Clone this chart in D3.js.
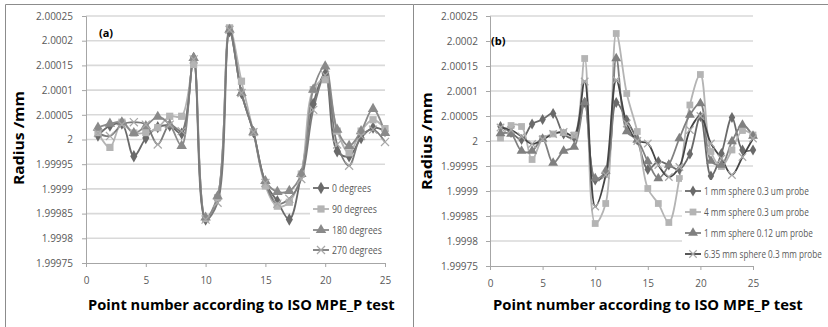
<!DOCTYPE html>
<html><head><meta charset="utf-8">
<script src="https://cdn.jsdelivr.net/npm/d3@7"></script>
<style>body{margin:0;background:#fff}svg{display:block}text{font-family:"Open Sans",sans-serif}</style>
</head><body><svg id="c" width="828" height="327"></svg>
<script>
const pointNumbers = [1,2,3,4,5,6,7,8,9,10,11,12,13,14,15,16,17,18,19,20,21,22,23,24,25];
const xTickValues = [0,5,10,15,20,25];
const yTickValues = [1.99975,1.9998,1.99985,1.9999,1.99995,2,2.00005,2.0001,2.00015,2.0002,2.00025];
const yTickLabels = ["1.99975","1.9998","1.99985","1.9999","1.99995","2","2.00005","2.0001","2.00015","2.0002","2.00025"];

// Panel (a)
const seriesNamesA = ["0 degrees","90 degrees","180 degrees","270 degrees"];
const deg0   = [2.000008,2.000028,2.000032,1.999966,2.000003,2.000025,2.000028,2.000012,2.000165,1.999838,1.999882,2.000219,2.000094,2.000015,1.999912,1.999875,1.999838,1.999930,2.000072,2.000133,1.999976,1.999966,2.000003,2.000024,2.000017];
const deg90  = [2.000014,1.999984,2.000035,2.000013,2.000014,2.000024,2.000047,2.000047,2.000152,1.999840,1.999882,2.000226,2.000118,2.000015,1.999906,1.999865,1.999873,1.999930,2.000101,2.000121,2.000017,1.999973,2.000017,2.000040,2.000022];
const deg180 = [2.000024,2.000032,2.000035,2.000013,2.000027,2.000046,2.000030,1.999987,2.000165,1.999842,1.999885,2.000222,2.000094,2.000015,1.999916,1.999894,1.999896,1.999930,2.000101,2.000148,2.000020,1.999987,2.000017,2.000062,2.000013];
const deg270 = [2.000013,2.000007,2.000030,2.000035,2.000030,1.999990,2.000030,2.000017,2.000162,1.999838,1.999872,2.000222,2.000094,2.000015,1.999912,1.999870,1.999880,1.999920,2.000060,2.000130,1.999990,1.999947,2.000007,2.000020,1.999995];

// Panel (b)
const seriesNamesB = ["1 mm sphere 0.3 um probe","4 mm sphere 0.3 um probe","1 mm sphere 0.12 um probe","6.35 mm sphere 0.3 mm probe"];
const sph1p03  = [2.000029,2.000017,2.000003,2.000034,2.000043,2.000055,2.000014,2.000007,2.000077,1.999922,1.999935,2.000077,2.000042,2.000002,1.999943,1.999959,1.999952,1.999943,1.999974,2.000049,1.999930,1.999975,2.000047,1.999982,1.999982];
const sph4p03  = [2.000006,2.000031,2.000029,1.999963,2.000005,2.000014,2.000017,2.000012,2.000165,1.999835,1.999875,2.000215,2.000095,2.000019,1.999905,1.999875,1.999837,1.999925,2.000072,2.000133,1.999979,1.999949,1.999982,2.000021,2.000012];
const sph1p012 = [2.000015,2.000014,1.999980,1.999980,2.000004,1.999956,1.999980,1.999988,2.000077,1.999925,1.999940,2.000165,2.000019,2.000002,1.999959,1.999925,1.999952,2.000005,2.000052,2.000075,1.999960,1.999952,1.999999,2.000032,2.000010];
const sph635   = [2.000027,2.000022,2.000009,1.999994,2.000003,2.000014,2.000018,2.000010,2.000119,1.999869,1.999932,2.000122,2.000035,2.000000,1.999995,1.999952,1.999928,1.999948,2.000022,2.000050,1.999995,1.999965,1.999932,1.999968,2.000005];

const svg = d3.select("#c");

// frames
svg.append("path").attr("d","M5.5,330 V4.5 H413.5 V330").attr("fill","none").attr("stroke","#8c8c8c").attr("stroke-width",1);
svg.append("path").attr("d","M413.5,4.5 H830").attr("fill","none").attr("stroke","#8c8c8c").attr("stroke-width",1);

const styles = [
  {line:"#6a6a6a", mark:"#6a6a6a", sym:d3.symbolDiamond, size:44, cross:false},
  {line:"#b4b4b4", mark:"#b4b4b4", sym:d3.symbolSquare, size:52, cross:false},
  {line:"#8a8a8a", mark:"#8a8a8a", sym:d3.symbolTriangle, size:48, cross:false},
  {line:"#7a7a7a", mark:"#a8a8a8", sym:d3.symbolX, size:44, cross:true}
];
const stylesB = [
  {line:"#6a6a6a", mark:"#6a6a6a", sym:d3.symbolDiamond, size:36, cross:false},
  {line:"#b4b4b4", mark:"#b4b4b4", sym:d3.symbolSquare, size:46, cross:false},
  {line:"#808080", mark:"#808080", sym:d3.symbolTriangle, size:42, cross:false},
  {line:"#454545", mark:"#a8a8a8", sym:d3.symbolX, size:38, cross:true}
];

function marker(g, st, x, y) {
  const p = g.append("path").attr("d", d3.symbol().type(st.sym).size(st.size)()).attr("transform",`translate(${x},${y})`);
  if (st.cross) p.attr("fill","none").attr("stroke",st.mark).attr("stroke-width",1.2);
  else p.attr("fill",st.mark).attr("stroke","none");
}

// text fitted to a target width by horizontal scaling (so its box is the real drawn box)
function fitText(g, str, x, y, width, size, weight, anchor, rotate) {
  const t = g.append("text").text(str).style("font-size",size+"px").style("font-weight",weight).attr("fill", weight==="bold"?"#000":"#595959");
  const nat = t.node().getComputedTextLength();
  const s = width / nat;
  const dx = anchor==="middle" ? -nat/2 : 0;
  t.attr("x",dx).attr("y",0);
  t.attr("transform", rotate ? `translate(${x},${y}) rotate(-90) scale(${s},1)` : `translate(${x},${y}) scale(${s},1)`);
  return t;
}

function panel(cfg) {
  const g = svg.append("g");
  const x = d3.scaleLinear().domain([0,25]).range([cfg.x0,cfg.x1]);
  const y = d3.scaleLinear().domain([1.99975,2.00025]).range([cfg.y0,cfg.y1]);
  g.append("g").selectAll("line").data(yTickValues.slice(1)).join("line")
    .attr("x1",cfg.x0).attr("x2",cfg.x1).attr("y1",d=>y(d)).attr("y2",d=>y(d))
    .attr("stroke","#d9d9d9").attr("stroke-width",1.6);
  const ya = g.append("g").attr("transform",`translate(${cfg.x0},0)`)
    .call(d3.axisLeft(y).tickValues(yTickValues).tickFormat((d,i)=>yTickLabels[i]).tickSize(4).tickPadding(cfg.ypad));
  const xa = g.append("g").attr("transform",`translate(0,${cfg.y0})`)
    .call(d3.axisBottom(x).tickValues(xTickValues).tickSize(4).tickPadding(10));
  [ya,xa].forEach(a=>{
    a.select(".domain").attr("stroke","#a6a6a6");
    a.selectAll(".tick line").attr("stroke","#a6a6a6");
    a.selectAll("text").attr("fill","#595959").style("font-size","10px").style("font-family","'Open Sans',sans-serif");
  });
  const line = d3.line().x((d,i)=>x(pointNumbers[i])).y(d=>y(d)).curve(d3.curveCatmullRom.alpha(0.5));
  cfg.series.forEach((s,k)=>{
    const st = cfg.styles[k];
    g.append("path").datum(s).attr("d",line).attr("fill","none").attr("stroke",st.line).attr("stroke-width",1.8);
  });
  cfg.series.forEach((s,k)=>{
    const st = cfg.styles[k];
    s.forEach((v,i)=>marker(g, st, x(pointNumbers[i]), y(v)));
  });
  g.append("rect").attr("x",cfg.lg.x).attr("y",cfg.lg.y).attr("width",cfg.lg.w).attr("height",cfg.lg.h).attr("fill","#fff");
  cfg.names.forEach((n,k)=>{
    const st = cfg.styles[k];
    const yy = cfg.lg.rows[k];
    g.append("line").attr("x1",cfg.lg.lx).attr("x2",cfg.lg.lx+16).attr("y1",yy).attr("y2",yy).attr("stroke",st.line).attr("stroke-width",1.8);
    marker(g, st, cfg.lg.lx+8, yy);
    fitText(g, n, cfg.lg.tx, yy+3.5, cfg.lg.tw[k], 10, "normal", "start", false);
  });
  g.append("text").attr("x",cfg.lab.x).attr("y",cfg.lab.y).text(cfg.lab.t)
    .style("font-size","11px").style("font-weight","bold").attr("fill","#000");
  fitText(g, "Point number according to ISO MPE_P test", (cfg.xt.x0+cfg.xt.x1)/2, cfg.xt.y, cfg.xt.x1-cfg.xt.x0, 15, "bold", "middle", false);
  fitText(g, "Radius  /mm", cfg.yt.x, cfg.yt.y, cfg.yt.len, 15, "bold", "middle", true);
}

panel({x0:86,x1:385,y0:263,y1:16,ypad:9,series:[deg0,deg90,deg180,deg270],styles:styles,names:seriesNamesA,
  lg:{x:310,y:176,w:88,h:84,rows:[188,209,230,250],lx:313,tx:332,tw:[39,45,50,50]},
  lab:{x:99,y:37,t:"(a)"},
  xt:{x0:88,x1:395,y:310},
  yt:{x:24,y:138,len:94}});

panel({x0:490,x1:753,y0:266,y1:16,ypad:8,series:[sph1p03,sph4p03,sph1p012,sph635],styles:stylesB,names:seriesNamesB,
  lg:{x:682,y:180,w:146,h:84,rows:[191,212,233,254],lx:685,tx:704,tw:[105,105,109,118]},
  lab:{x:491,y:45,t:"(b)"},
  xt:{x0:493,x1:803,y:310},
  yt:{x:432,y:141,len:98}});
</script></body></html>
